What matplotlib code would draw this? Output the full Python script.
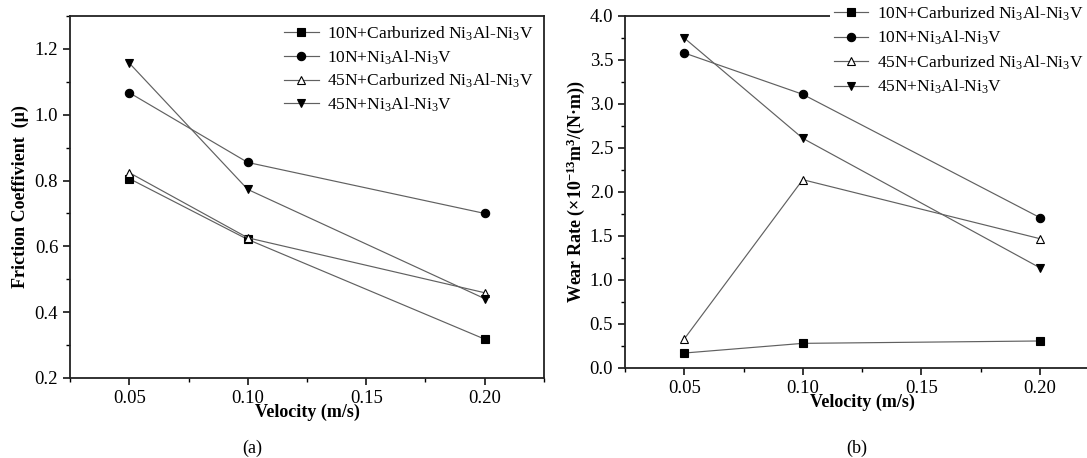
import matplotlib
matplotlib.use('Agg')
import matplotlib.pyplot as plt
from matplotlib.ticker import MultipleLocator, FormatStrFormatter

plt.rcParams['font.family'] = ['Liberation Serif', 'DejaVu Serif']
plt.rcParams['mathtext.fontset'] = 'custom'
plt.rcParams['mathtext.rm'] = 'Liberation Serif'
plt.rcParams['mathtext.it'] = 'Liberation Serif:italic'
plt.rcParams['mathtext.bf'] = 'Liberation Serif:bold'

velocity = [0.05, 0.10, 0.20]

labels = ['10N+Carburized Ni$_3$Al-Ni$_3$V',
          '10N+Ni$_3$Al-Ni$_3$V',
          '45N+Carburized Ni$_3$Al-Ni$_3$V',
          '45N+Ni$_3$Al-Ni$_3$V']

friction_10n_carb = [0.806, 0.621, 0.318]
friction_10n = [1.067, 0.855, 0.700]
friction_45n_carb = [0.824, 0.626, 0.459]
friction_45n = [1.157, 0.773, 0.441]

wear_10n_carb = [0.17, 0.28, 0.307]
wear_10n = [3.58, 3.11, 1.71]
wear_45n_carb = [0.33, 2.14, 1.47]
wear_45n = [3.75, 2.61, 1.14]

markers = ['s', 'o', '^', 'v']
faces = ['black', 'black', 'white', 'black']

W, H = 1087, 458
fig = plt.figure(figsize=(W / 100, H / 100), dpi=100)
# axes boxes in pixels (right panel runs past the right edge, as in the original crop)
ax1 = fig.add_axes([70 / W, 1 - 378 / H, 474 / W, 362 / H])
ax2 = fig.add_axes([625 / W, 1 - 368 / H, 474 / W, 352 / H])


def draw(ax, series):
    for vals, m, fc, lab in zip(series, markers, faces, labels):
        ax.plot(velocity, vals, color='#606060', lw=0.85, marker=m, ms=6,
                mfc=fc, mec='black', mew=0.8, label=lab)
    ax.set_xlim(0.025, 0.225)
    ax.xaxis.set_major_locator(MultipleLocator(0.05))
    ax.xaxis.set_minor_locator(MultipleLocator(0.025))
    ax.xaxis.set_major_formatter(FormatStrFormatter('%.2f'))
    for sp in ax.spines.values():
        sp.set_linewidth(1.3)
        sp.set_color('#222222')
    ax.tick_params(which='both', direction='out', labelsize=13.5, top=False, right=False)
    ax.tick_params(which='major', length=5, width=1.1)
    ax.tick_params(which='minor', length=3, width=1.0)
    ax.set_xlabel('Velocity (m/s)', fontsize=13, fontweight='bold', labelpad=-2)


draw(ax1, [friction_10n_carb, friction_10n, friction_45n_carb, friction_45n])
ax1.set_ylim(0.2, 1.3)
ax1.yaxis.set_major_locator(MultipleLocator(0.2))
ax1.yaxis.set_minor_locator(MultipleLocator(0.1))
ax1.yaxis.set_major_formatter(FormatStrFormatter('%.1f'))
ax1.set_ylabel('Friction Coeffivient  (μ)', fontsize=13, fontweight='bold')
ax1.legend(loc='upper right', bbox_to_anchor=(1.005, 1.01), frameon=False, fontsize=12.5,
           handlelength=2.0, handletextpad=0.5, labelspacing=0.3, borderaxespad=0.3)

draw(ax2, [wear_10n_carb, wear_10n, wear_45n_carb, wear_45n])
ax2.set_ylim(0, 4.0)
ax2.yaxis.set_major_locator(MultipleLocator(0.5))
ax2.yaxis.set_minor_locator(MultipleLocator(0.25))
ax2.yaxis.set_major_formatter(FormatStrFormatter('%.1f'))
ax2.set_ylabel(r'Wear Rate (×10$^{\mathbf{-13}}$m$^{\mathbf{3}}$/(N·m))', fontsize=13,
               fontweight='bold', labelpad=2)
# this legend sits on the top spine and hides it behind a white box
leg2 = ax2.legend(loc='upper left', bbox_to_anchor=(200 / 474, 1.058), frameon=True,
                  fancybox=False, framealpha=1, edgecolor='none', facecolor='white',
                  fontsize=12.5, handlelength=2.0, handletextpad=0.5, labelspacing=0.35,
                  borderaxespad=0.3, borderpad=0.2)
leg2.set_zorder(5)

fig.text(252 / W, 1 - 448 / H, '(a)', ha='center', va='center', fontsize=13)
fig.text(857 / W, 1 - 448 / H, '(b)', ha='center', va='center', fontsize=13)

fig.savefig('out.png', dpi=100)
